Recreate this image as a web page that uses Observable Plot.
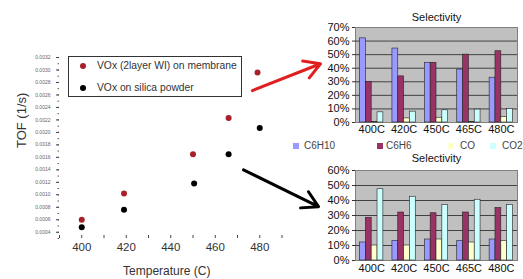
<!DOCTYPE html>
<html><head><meta charset="utf-8">
<script src="https://cdn.jsdelivr.net/npm/d3@7"></script>
<script src="https://cdn.jsdelivr.net/npm/@observablehq/plot@0.6"></script>
<style>
body{margin:0;background:#fff;}
#wrap{position:relative;width:523px;height:279px;overflow:hidden;font-family:"Liberation Sans",Arial,sans-serif;}
#wrap svg{position:absolute;}
#legbox{position:absolute;left:68px;top:56px;width:172px;height:39px;border:1px solid #333;color:#333;font-size:10.3px;}
#legbox .it{position:absolute;left:0;height:14px;line-height:14px;white-space:nowrap;}
#legbox .dot{position:absolute;left:11px;top:4px;width:6px;height:6px;border-radius:50%;}
#legbox .tx{position:absolute;left:28px;top:0;}
#barleg{position:absolute;top:140px;left:0;width:523px;height:12px;font-size:10px;color:#444;}
#barleg .sw{position:absolute;top:3px;width:6px;height:6px;}
#barleg .tx{position:absolute;top:0;line-height:12px;white-space:nowrap;}
</style></head><body><div id="wrap"></div>
<script>
// ---- scatter data (TOF vs temperature) ----
const membraneTemp = [400, 419, 450, 466, 479];
const membraneTOF  = [0.00060, 0.00102, 0.00165, 0.00223, 0.00296];
const powderTemp   = [400, 419, 450.5, 466, 480];
const powderTOF    = [0.00048, 0.00076, 0.00118, 0.00165, 0.00207];
const seriesLabels = ["VOx (2layer WI) on membrane", "VOx on silica powder"];
const seriesDotColors = ["#a8202a", "#000000"];
// annotation arrows (in scatter data units)
const arrowX1 = [476.7, 472.7];
const arrowY1 = [0.00267, 0.00140];
const arrowX2 = [507.3, 506.4];
const arrowY2 = [0.00310, 0.00081];
const arrowColors = ["#e02020", "#000000"];

// ---- selectivity bar charts ----
const temps = ["400C", "420C", "450C", "465C", "480C"];
const species = ["C6H10", "C6H6", "CO", "CO2"];
const speciesColors = ["#9999ff", "#993366", "#ffffcc", "#ccffff"];
const topC6H10 = [62, 54.5, 44, 39, 33];
const topC6H6  = [30, 34, 44, 50, 52.5];
const topCO    = [0.5, 3, 3.5, 0.5, 4];
const topCO2   = [7.5, 8, 9, 9.5, 10];
const botC6H10 = [12, 13, 14, 13, 14];
const botC6H6  = [28.5, 32, 31.5, 32, 35];
const botCO    = [10, 10, 14, 12, 13];
const botCO2   = [47.5, 42.5, 37, 40.5, 37];

const wrap = document.getElementById("wrap");

function barChart(values, yMax, opts) {
  const rows = [];
  temps.forEach((t, i) => species.forEach((s, j) => rows.push({temp: t, i, series: s, j, value: values[j][i]})));
  const w = 0.18, start = 0.14;
  const svg = Plot.plot({
    width: 203, height: opts.height,
    marginLeft: 35, marginRight: 6, marginTop: opts.marginTop, marginBottom: opts.marginBottom,
    style: {background: "transparent", fontFamily: "Liberation Sans, Arial, sans-serif", fontSize: "11px", color: "#111"},
    x: {domain: [0, temps.length]},
    y: {domain: [0, yMax]},
    color: {domain: species, range: speciesColors},
    marks: [
      Plot.frame({fill: "#c0c0c0", stroke: "#808080"}),
      Plot.ruleY(d3.range(10, yMax, 10), {stroke: "#222", strokeWidth: 0.8}),
      Plot.rectY(rows, {
        x1: d => d.i + start + d.j * w, x2: d => d.i + start + (d.j + 1) * w,
        y1: 0, y2: "value", fill: "series", stroke: "#222", strokeWidth: 0.6
      }),
      Plot.axisY({ticks: d3.range(0, yMax + 1, 10), tickFormat: d => d + "%", tickSize: 3, tickPadding: 3, stroke: "#333", label: null}),
      Plot.axisX({ticks: temps.map((t, i) => i + 0.5), tickFormat: d => temps[Math.floor(d)], tickSize: 0, tickPadding: opts.xPad, label: null}),
      Plot.text(["Selectivity"], {frameAnchor: "top", lineAnchor: "middle", dy: opts.titleDy, fontSize: 11})
    ]
  });
  svg.style.left = "320px";
  svg.style.top = opts.top + "px";
  wrap.appendChild(svg);
}

barChart([topC6H10, topC6H6, topCO, topCO2], 70, {top: 0, height: 140, marginTop: 27, marginBottom: 18, titleDy: -10, xPad: 3});
barChart([botC6H10, botC6H6, botCO, botCO2], 60, {top: 150, height: 129, marginTop: 20, marginBottom: 19, titleDy: -12, xPad: 4});

// bar legend
const barleg = document.createElement("div");
barleg.id = "barleg";
const swX = [293, 377, 448, 490];
const txX = [304, 386, 460, 502];
species.forEach((s, j) => {
  const sw = document.createElement("div");
  sw.className = "sw"; sw.style.left = swX[j] + "px"; sw.style.background = speciesColors[j];
  const tx = document.createElement("div");
  tx.className = "tx"; tx.style.left = txX[j] + "px"; tx.textContent = s;
  barleg.appendChild(sw); barleg.appendChild(tx);
});
wrap.appendChild(barleg);

// scatter
const scatterRows = [
  ...membraneTemp.map((t, k) => ({t, tof: membraneTOF[k], s: 0})),
  ...powderTemp.map((t, k) => ({t, tof: powderTOF[k], s: 1}))
];
const arrows = arrowX1.map((x, k) => ({x1: x, y1: arrowY1[k], x2: arrowX2[k], y2: arrowY2[k], c: arrowColors[k]}));
const yMajor = d3.range(4, 33, 2).map(v => v / 10000);
const yMinor = d3.range(3, 33, 1).map(v => v / 10000);
const scatter = Plot.plot({
  width: 523, height: 279,
  marginLeft: 59, marginRight: 241.5, marginTop: 57, marginBottom: 41,
  style: {background: "transparent", fontFamily: "Liberation Sans, Arial, sans-serif", color: "#333", pointerEvents: "none"},
  x: {domain: [390, 490]},
  y: {domain: [0.0003, 0.0032]},
  marks: [
    Plot.axisY({ticks: yMinor, tickSize: 1.5, tickFormat: () => "", stroke: "#555", label: null}),
    Plot.axisY({ticks: yMajor, tickSize: 3, tickPadding: 6, tickFormat: d3.format(".4f"), fontSize: 5, fill: "#666", stroke: "#444", line: true, label: null}),
    Plot.axisX({ticks: d3.range(390, 491, 10), tickSize: -3, tickFormat: () => "", stroke: "#444", line: true, label: null}),
    Plot.axisX({ticks: d3.range(400, 481, 20), tickSize: 0, tickPadding: 4, fontSize: 11.5, fill: "#333", label: null}),
    Plot.text(["TOF (1/s)"], {frameAnchor: "left", rotate: -90, dx: -38, fontSize: 13, fill: "#333"}),
    Plot.text(["Temperature (C)"], {frameAnchor: "bottom", lineAnchor: "middle", dy: 33, dx: -4, fontSize: 12, fill: "#333"}),
    Plot.dot(scatterRows, {x: "t", y: "tof", r: 3, fill: d => seriesDotColors[d.s], stroke: "none"}),
    Plot.arrow(arrows, {x1: "x1", y1: "y1", x2: "x2", y2: "y2", stroke: "c", strokeWidth: 3, headLength: 9})
  ]
});
scatter.style.left = "0px";
scatter.style.top = "0px";
wrap.appendChild(scatter);

// scatter legend box
const legbox = document.createElement("div");
legbox.id = "legbox";
seriesLabels.forEach((lab, k) => {
  const it = document.createElement("div");
  it.className = "it"; it.style.top = (k === 0 ? 2 : 24) + "px";
  const dot = document.createElement("div");
  dot.className = "dot"; dot.style.background = seriesDotColors[k];
  const tx = document.createElement("div");
  tx.className = "tx"; tx.textContent = lab;
  it.appendChild(dot); it.appendChild(tx);
  legbox.appendChild(it);
});
wrap.appendChild(legbox);
</script></body></html>
